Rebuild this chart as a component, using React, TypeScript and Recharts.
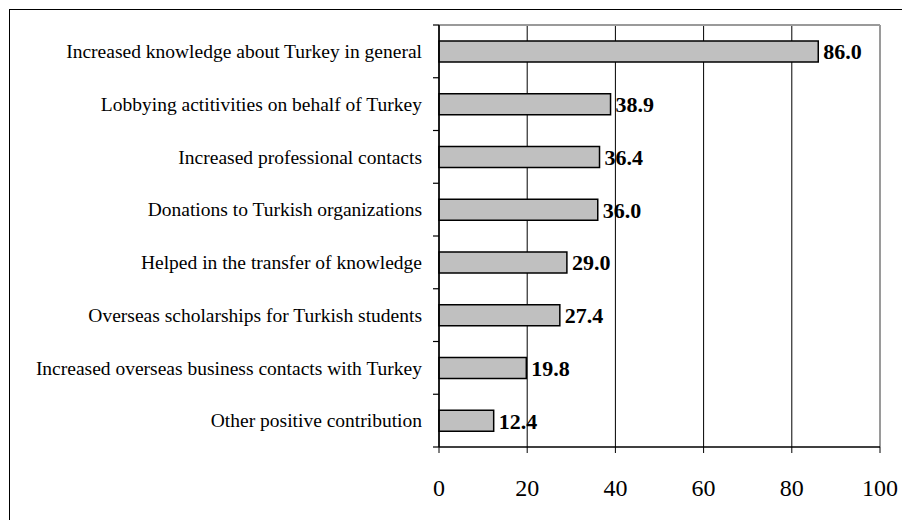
import React from "react";
import {
  Bar,
  BarChart,
  CartesianGrid,
  LabelList,
  ReferenceLine,
  XAxis,
  YAxis,
} from "recharts";

const categories = [
  "Increased knowledge about Turkey in general",
  "Lobbying actitivities on behalf of Turkey",
  "Increased professional contacts",
  "Donations to Turkish organizations",
  "Helped in the transfer of knowledge",
  "Overseas scholarships for Turkish students",
  "Increased overseas business contacts with Turkey",
  "Other positive contribution",
];

const values = [86.0, 38.9, 36.4, 36.0, 29.0, 27.4, 19.8, 12.4];

const xTicks = [0, 20, 40, 60, 80, 100];

const data = categories.map((name, i) => ({ name, value: values[i] }));

const FONT = "'Liberation Serif', 'Times New Roman', serif";
const LABEL_GAP = 17; // tickSize 6 + tickMargin 11

// category label at band centre, small tick marks at band boundaries
const CategoryTick = (props: any) => {
  const { x, y, payload, index } = props;
  const half = payload && payload.offset ? payload.offset : 26;
  const axisX = x + LABEL_GAP;
  return (
    <g>
      <line x1={axisX - 6} x2={axisX} y1={y - half} y2={y - half} stroke="#000" strokeWidth={1.2} />
      {index === categories.length - 1 && (
        <line x1={axisX - 6} x2={axisX} y1={y + half} y2={y + half} stroke="#000" strokeWidth={1.2} />
      )}
      <text
        x={x}
        y={y}
        dy="0.35em"
        textAnchor="end"
        fontFamily={FONT}
        fontSize={19.5}
        fill="#000"
      >
        {payload.value}
      </text>
    </g>
  );
};

const App: React.FC = () => {
  return (
    <div style={{ position: "absolute", left: 0, top: 0, width: 902, height: 520 }}>
      <div
        style={{
          position: "absolute",
          left: 9,
          top: 9,
          width: 893,
          height: 511,
          borderTop: "1.5px solid #000",
          borderLeft: "1.5px solid #000",
          boxSizing: "border-box",
        }}
      />
      <BarChart
        width={902}
        height={520}
        data={data}
        layout="vertical"
        margin={{ top: 24, right: 22, left: 0, bottom: 43 }}
        barSize={21}
        style={{ position: "absolute", left: 0, top: 0 }}
      >
        <CartesianGrid horizontal={false} stroke="#000" strokeWidth={1} />
        <XAxis
          type="number"
          domain={[0, 100]}
          ticks={xTicks}
          interval={0}
          height={30}
          axisLine={{ stroke: "#000", strokeWidth: 1.5 }}
          tickLine={{ stroke: "#000" }}
          tickSize={6}
          tickMargin={26}
          tick={{ fill: "#000", fontSize: 24, fontFamily: FONT }}
        />
        {/* grey plot-area border, top edge */}
        <XAxis
          xAxisId="top"
          orientation="top"
          type="number"
          domain={[0, 100]}
          height={1}
          tick={false}
          tickLine={false}
          axisLine={{ stroke: "#9a9a9a", strokeWidth: 2 }}
        />
        <YAxis
          type="category"
          dataKey="name"
          width={439}
          axisLine={{ stroke: "#000", strokeWidth: 1.5 }}
          tickLine={false}
          tickSize={6}
          tickMargin={11}
          interval={0}
          tick={<CategoryTick />}
        />
        {/* grey plot-area border, right edge */}
        <ReferenceLine x={100} stroke="#9a9a9a" strokeWidth={2} />
        <Bar
          dataKey="value"
          fill="#c0c0c0"
          stroke="#000"
          strokeWidth={1.5}
          isAnimationActive={false}
        >
          <LabelList
            dataKey="value"
            position="right"
            offset={5}
            formatter={(v: any) => Number(v).toFixed(1)}
            style={{ fill: "#000", fontSize: 22, fontWeight: "bold", fontFamily: FONT }}
          />
        </Bar>
      </BarChart>
    </div>
  );
};

export default App;
